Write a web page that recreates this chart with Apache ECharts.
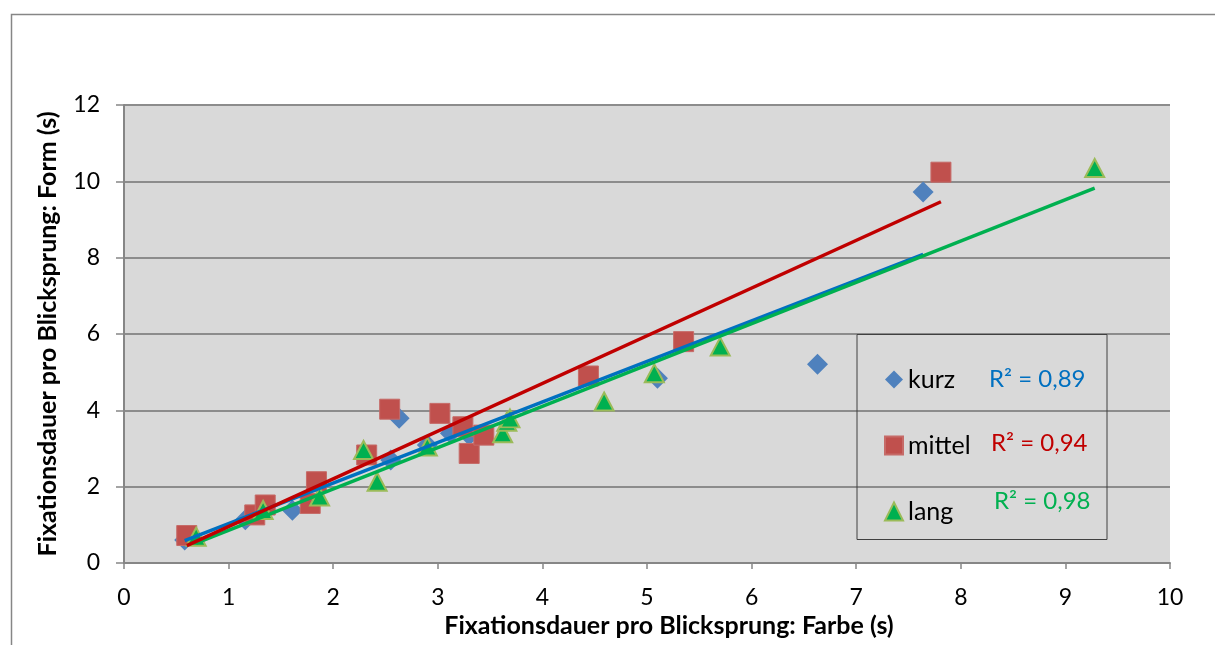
<!DOCTYPE html>
<html>
<head>
<meta charset="utf-8">
<script src="https://cdn.jsdelivr.net/npm/echarts@6/dist/echarts.min.js"></script>
<style>
html,body{margin:0;padding:0;background:#fff;}
#chart{width:1215px;height:645px;}
</style>
</head>
<body>
<div id="chart"></div>
<script>
// ---- data ----
const seriesNames = ['kurz', 'mittel', 'lang'];
const kurzX = [0.58, 1.16, 1.61, 2.55, 2.63, 2.90, 3.12, 3.30, 5.10, 6.63, 7.64];
const kurzY = [0.60, 1.13, 1.38, 2.70, 3.79, 3.09, 3.40, 3.35, 4.84, 5.21, 9.72];
const mittelX = [0.60, 1.25, 1.35, 1.78, 1.84, 2.32, 2.54, 3.02, 3.24, 3.30, 3.44, 4.44, 5.35, 7.81];
const mittelY = [0.72, 1.26, 1.52, 1.56, 2.13, 2.83, 4.03, 3.92, 3.57, 2.87, 3.35, 4.90, 5.80, 10.24];
const langX = [0.69, 1.33, 1.87, 2.29, 2.42, 2.90, 3.62, 3.66, 3.69, 4.59, 5.07, 5.70, 9.28];
const langY = [0.69, 1.39, 1.74, 2.96, 2.13, 3.05, 3.40, 3.70, 3.79, 4.23, 4.97, 5.67, 10.35];
const r2Labels = ['R² = 0,89', 'R² = 0,94', 'R² = 0,98'];
const xTitle = 'Fixationsdauer pro Blicksprung: Farbe (s)';
const yTitle = 'Fixationsdauer pro Blicksprung: Form (s)';

// ---- helpers ----
function pairs(xs, ys) { return xs.map((x, i) => [x, ys[i]]); }
// least-squares linear trend line over the x range of a series
function fitLine(xs, ys) {
  const n = xs.length;
  const mx = xs.reduce((a, b) => a + b, 0) / n;
  const my = ys.reduce((a, b) => a + b, 0) / n;
  let sxy = 0, sxx = 0;
  for (let i = 0; i < n; i++) { sxy += (xs[i] - mx) * (ys[i] - my); sxx += (xs[i] - mx) ** 2; }
  const b = sxy / sxx, a = my - b * mx;
  const x0 = Math.min(...xs), x1 = Math.max(...xs);
  return [[x0, a + b * x0], [x1, a + b * x1]];
}

const FONT = 'Lato, "Open Sans", sans-serif';
const chart = echarts.init(document.getElementById('chart'));

const markerSeries = [
  { name: 'kurz', type: 'scatter', data: pairs(kurzX, kurzY), symbol: 'diamond', symbolSize: [21, 21],
    itemStyle: { color: '#4F81BD', opacity: 1 }, z: 2 },
  { name: 'mittel', type: 'scatter', data: pairs(mittelX, mittelY), symbol: 'rect', symbolSize: [20, 20],
    itemStyle: { color: '#C0504D', borderColor: '#C66B68', borderWidth: 1, opacity: 1 }, z: 2 },
  { name: 'lang', type: 'scatter', data: pairs(langX, langY), symbol: 'triangle', symbolSize: [19, 18],
    itemStyle: { color: '#00B050', borderColor: '#9BBB59', borderWidth: 2, opacity: 1 }, z: 2 }
];
const trendSeries = [
  { name: 'kurz-trend', type: 'line', symbol: 'none', silent: true, z: 3,
    data: fitLine(kurzX, kurzY), lineStyle: { color: '#0070C0', width: 3.5 } },
  { name: 'lang-trend', type: 'line', symbol: 'none', silent: true, z: 4,
    data: fitLine(langX, langY), lineStyle: { color: '#00B050', width: 3.5 } },
  { name: 'mittel-trend', type: 'line', symbol: 'none', silent: true, z: 5,
    data: fitLine(mittelX, mittelY), lineStyle: { color: '#C00000', width: 3.5 } }
];

const r2Colors = ['#0070C0', '#C00000', '#00B050'];
const r2Pos = [[989, 379], [991, 443], [994, 501]];

chart.setOption({
  animation: false,
  backgroundColor: '#FFFFFF',
  textStyle: { fontFamily: FONT },
  grid: { left: 124, top: 105, width: 1046, height: 458, show: true, backgroundColor: '#D9D9D9', borderWidth: 0, containLabel: false },
  xAxis: {
    type: 'value', min: 0, max: 10, interval: 1,
    name: xTitle, nameLocation: 'middle', nameGap: 50,
    nameTextStyle: { fontFamily: FONT, fontSize: 25, fontWeight: 'bold', color: '#000', padding: [0, 0, 0, 44] },
    axisLine: { show: true, onZero: false, lineStyle: { color: '#868686', width: 2 } },
    axisTick: { show: true, inside: false, length: 6, lineStyle: { color: '#868686', width: 1.5 } },
    axisLabel: { fontFamily: FONT, fontSize: 23, color: '#000', margin: 23 },
    splitLine: { show: false }
  },
  yAxis: {
    type: 'value', min: 0, max: 12, interval: 2,
    name: yTitle, nameLocation: 'middle', nameGap: 64, nameRotate: 90,
    nameTextStyle: { fontFamily: FONT, fontSize: 25, fontWeight: 'bold', color: '#000' },
    axisLine: { show: true, onZero: false, lineStyle: { color: '#868686', width: 2 } },
    axisTick: { show: true, inside: false, length: 8, lineStyle: { color: '#868686', width: 1.5 } },
    axisLabel: { fontFamily: FONT, fontSize: 23, color: '#000', margin: 24 },
    splitLine: { show: true, lineStyle: { color: '#8C8C8C', width: 2 } }
  },
  legend: {
    orient: 'vertical', left: 884, top: 367, padding: 0, itemGap: 41, itemWidth: 18, itemHeight: 18,
    selectedMode: false,
    textStyle: { fontFamily: FONT, fontSize: 25, color: '#000', lineHeight: 22 },
    data: [
      { name: 'kurz', icon: 'diamond' },
      { name: 'mittel', icon: 'rect' },
      { name: 'lang', icon: 'triangle' }
    ]
  },
  graphic: [
    { type: 'rect', left: 9, top: 12, z: -1, silent: true,
      shape: { x: 0, y: 0, width: 1220, height: 650 },
      style: { fill: 'none', stroke: '#868686', lineWidth: 1.5 } },
    { type: 'rect', z: 10, silent: true,
      shape: { x: 857, y: 334.5, width: 250, height: 205 },
      style: { fill: 'none', stroke: '#404040', lineWidth: 1 } }
  ].concat(r2Labels.map((t, i) => ({
    type: 'text', z: 10, silent: true, x: r2Pos[i][0], y: r2Pos[i][1],
    style: { text: t, fill: r2Colors[i], font: '24px ' + FONT, textVerticalAlign: 'middle', textAlign: 'left' }
  }))),
  series: markerSeries.concat(trendSeries)
});
</script>
</body>
</html>
